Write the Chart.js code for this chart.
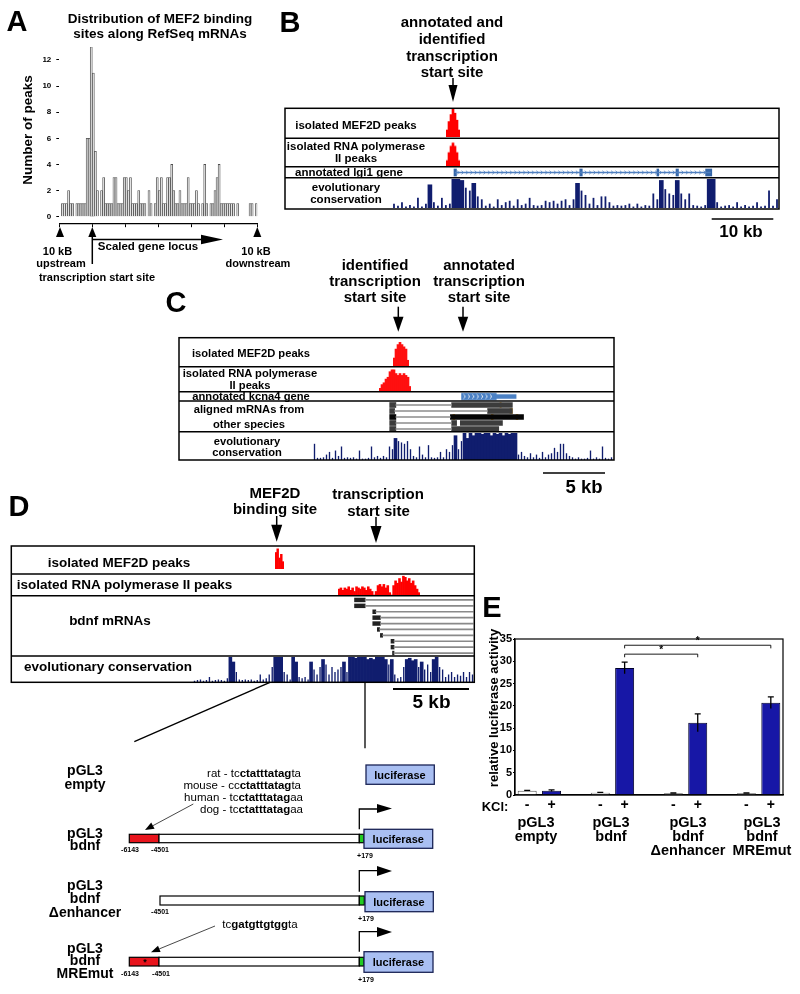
<!DOCTYPE html>
<html><head><meta charset="utf-8">
<script src="https://cdn.jsdelivr.net/npm/chart.js@4.4.1/dist/chart.umd.min.js"></script>
<style>
body{margin:0;background:#fff;}
#root{position:relative;width:800px;height:994px;overflow:hidden;font-family:"Liberation Sans",Arial,Helvetica,sans-serif;background:#fff;}
.t{position:absolute;white-space:nowrap;transform:translate(-50%,-50%);font-weight:bold;color:#000;line-height:1;z-index:3;}
canvas{position:absolute;z-index:1;}
#svg{position:absolute;left:0;top:0;z-index:2;}
</style></head>
<body><div id="root"></div>
<script>
// ================= DATA =================
// Panel A: histogram of MEF2 peaks along scaled gene locus (96 bins)
const histBins = [0,1,1,1,2,1,1,0,1,1,1,1,1,6,6,13,11,5,2,0,2,3,1,1,1,1,3,3,1,1,1,3,3,2,3,1,1,1,2,1,1,1,0,2,1,0,1,3,2,3,1,1,3,3,4,2,1,1,2,1,1,1,3,1,1,1,2,1,0,1,4,1,0,1,1,2,3,4,1,1,1,1,1,1,1,0,1,0,0,0,0,0,1,1,0,1];
const histYTicks = [0,2,4,6,8,10,12];
const histXTicks = [0,16,32,48,64,80,96];

// Panel B (lgi1 locus)
const consB = [15,8,20,5,10,5,35,5,15,80,20,8,35,10,15,100,100,95,70,60,85,40,30,8,15,5,30,10,20,25,8,30,10,15,35,10,8,10,25,20,25,15,25,30,10,30,85,60,45,15,35,10,40,40,20,8,10,8,10,15,5,15,5,10,8,50,30,95,65,50,45,95,50,30,50,10,8,5,10,100,100,20,5,8,10,5,20,5,10,5,8,20,5,8,60,8,30];
const peakB_MEF2D = [5,11,16,20,17,12,5];
const peakB_Pol2 = [4,9,13,15,13,9,4];
const lgi1Intron = [[0,27.6,69.0]];
const lgi1Exons = [[0,27.4,27.8],[0,47.8,48.2],[0,60.3,60.6],[0,63.4,63.8],[0,68.2,69.2]];

// Panel C (kcna4 locus)
const consC = [60,8,8,10,20,30,8,35,15,50,8,10,8,10,5,35,5,5,8,50,10,15,8,15,10,50,40,80,70,65,60,70,40,15,10,50,20,10,55,10,8,10,30,10,40,30,55,90,40,70,100,80,100,90,100,100,95,100,100,90,100,95,100,90,100,95,100,100,20,30,15,10,25,10,20,8,30,10,20,25,45,30,60,60,25,15,10,5,10,5,5,8,35,5,10,5,50,8,5,10];
const peakC_MEF2D = [4,8,10,11,10,9,8,3];
const peakC_Pol2 = [2,4,5,7,8,11,12,12,10,9,10,9,10,9,8,3];
const kcna4Thick = [[0,22.8,25.6]];
const kcna4Thin = [[0,25.6,27.2]];
const cIntrons = [[0,17.5,22.0],[1,17.4,24.9],[2,17.5,21.9],[3,17.5,22.0],[4,17.5,22.0]];
const cBlocksGray = [[0,17.0,17.5],[0,22.0,26.9],[1,17.0,17.4],[1,24.9,26.9],[3,17.0,17.5],[3,22.0,22.4],[3,22.7,26.1],[4,17.0,17.5],[4,22.0,25.8]];
const cBlocksBlack = [[2,17.0,17.5],[2,21.9,27.8]];
const cBlocksOrange = [[0,25.9,26.0],[1,26.7,26.9],[2,22.1,22.25],[2,25.2,25.35],[2,27.2,27.35]];

// Panel D (bdnf locus)
const consD = [5,8,10,5,8,20,5,8,10,8,5,15,100,80,40,10,8,10,8,10,5,8,30,10,15,30,60,100,100,100,40,30,10,100,80,20,15,20,10,80,50,30,60,90,70,30,60,40,50,60,80,40,100,100,95,100,100,100,90,95,90,100,100,100,90,70,90,30,15,20,60,90,95,85,90,60,80,50,70,40,90,100,60,50,20,30,40,20,30,25,40,20,40,30];
const peakD_MEF2D = [9,11,6,8,4];
const peakD_Pol2 = [5,6,4,6,5,7,4,6,3,7,6,5,7,6,4,7,5,3,0,3,8,9,7,9,6,8,2,0,8,12,10,14,11,16,15,12,14,10,12,8,5,2];
const dBlocks = [[0,22.6,23.3],[1,22.6,23.3],[2,23.8,24.0],[3,23.8,24.3],[4,23.8,24.3],[5,24.1,24.25],[6,24.3,24.45],[7,25.0,25.2],[8,25.0,25.2],[9,25.1,25.2]];
const dIntrons = [[0,23.3,30.4],[1,23.3,30.4],[2,24.0,30.4],[3,24.3,30.4],[4,24.3,30.4],[5,24.25,30.4],[6,24.45,30.4],[7,25.2,30.4],[8,25.2,30.4],[9,25.2,30.4]];

// Panel E: relative luciferase activity
const eGroups = [['pGL3','empty'],['pGL3','bdnf'],['pGL3','bdnf','\u0394enhancer'],['pGL3','bdnf','MREmut']];
const eKclMinus = [0.97,0.52,0.37,0.37];
const eKclPlus = [0.97,28.5,16.2,20.7];
const eErrMinus = [0.08,0.08,0.08,0.08];
const eErrPlus = [0.2,1.3,2.0,1.3];
const eSignif = [[1,3,33.6],[1,2,31.6]]; // group a (+KCl) vs group b (+KCl), bracket level

// ================= HELPERS =================
Chart.defaults.font.family = '"Liberation Sans", Arial, sans-serif';
Chart.defaults.color = '#000';
const root = document.getElementById('root');
function T(txt,x,y,size,opt){opt=opt||{};const d=document.createElement('div');d.className='t';d.style.left=x+'px';d.style.top=y+'px';d.style.fontSize=size+'px';
 if(opt.html)d.innerHTML=txt;else d.textContent=txt;if(opt.normal)d.style.fontWeight='normal';
 if(opt.rot)d.style.transform='translate(-50%,-50%) rotate(-90deg)';if(opt.right)d.style.transform='translate(-100%,-50%)';root.appendChild(d);return d;}
function mkCanvas(x,y,w,h){const c=document.createElement('canvas');c.width=w;c.height=h;c.style.left=x+'px';c.style.top=y+'px';c.style.width=w+'px';c.style.height=h+'px';root.appendChild(c);return c;}
const baseOpts={responsive:false,animation:false,devicePixelRatio:1,events:[],plugins:{legend:{display:false},tooltip:{enabled:false}}};
function track(x,y,w,h,values,color,ymax){
 const c=mkCanvas(x,y,w,h);
 return new Chart(c,{type:'bar',data:{labels:values.map((v,i)=>i),datasets:[{data:values,backgroundColor:color,barPercentage:1,categoryPercentage:1,borderWidth:0}]},
 options:Object.assign({},baseOpts,{layout:{padding:0},scales:{x:{display:false},y:{display:false,min:0,max:ymax}}})});
}
// conservation: dense (high) bins drawn full width, isolated spikes drawn thin
function consTrack(x,y,w,h,values,color){
 const c=mkCanvas(x,y,w,h);
 const hi=values.map(v=>v>=75?v:null), lo=values.map(v=>v<75?v:null);
 return new Chart(c,{type:'bar',data:{labels:values.map((v,i)=>i),datasets:[
   {data:hi,backgroundColor:color,barPercentage:1,categoryPercentage:1,borderWidth:0,grouped:false},
   {data:lo,backgroundColor:color,barPercentage:0.45,categoryPercentage:1,borderWidth:0,grouped:false}]},
 options:Object.assign({},baseOpts,{layout:{padding:0},scales:{x:{display:false},y:{display:false,min:0,max:100}}})});
}
const chevPlugin={id:'chev',afterDatasetsDraw(chart){const ctx=chart.ctx;chart.data.datasets.forEach((ds,i)=>{if(!ds.chev)return;const meta=chart.getDatasetMeta(i);
 meta.data.forEach(el=>{const a=Math.min(el.x,el.base)+3,b=Math.max(el.x,el.base)-3;ctx.save();ctx.strokeStyle=ds.chev;ctx.lineWidth=0.8;
 for(let p=a;p<=b;p+=4.4){ctx.beginPath();ctx.moveTo(p-1.1,el.y-ds.chevH);ctx.lineTo(p+0.9,el.y);ctx.lineTo(p-1.1,el.y+ds.chevH);ctx.stroke();}ctx.restore();});});}};
function gene(x,y,w,h,xmax,nrows,layers){
 const c=mkCanvas(x,y,w,h);const rows=[];for(let i=0;i<nrows;i++)rows.push('r'+i);
 const datasets=layers.map(L=>({data:L.segs.map(s=>({y:rows[s[0]],x:[s[1],s[2]]})),backgroundColor:L.color,barThickness:L.thick,borderWidth:0,grouped:false,chev:L.chev,chevH:L.chevH||1.8}));
 return new Chart(c,{type:'bar',data:{labels:rows,datasets},options:Object.assign({},baseOpts,{indexAxis:'y',layout:{padding:0},scales:{x:{type:'linear',display:false,min:0,max:xmax},y:{type:'category',display:false}}}),plugins:[chevPlugin]});
}

// ================= PANEL A =================
new Chart(mkCanvas(0,0,270,240),{type:'bar',
 data:{datasets:[{data:histBins.map((v,i)=>({x:i+0.5,y:v})),backgroundColor:'#e4e4e4',borderColor:'#505050',borderWidth:0.8,barPercentage:1,categoryPercentage:1}]},
 options:Object.assign({},baseOpts,{layout:{padding:{top:46.9,right:12.7,left:0,bottom:0}},
  scales:{
   x:{type:'linear',min:0,max:96,offset:false,afterBuildTicks:s=>{s.ticks=histXTicks.map(v=>({value:v}));},ticks:{display:false},grid:{drawOnChartArea:false,offset:false,tickLength:4,color:'#000',lineWidth:1},border:{color:'#000',width:1.2},afterFit:s=>{s.height=16.8;}},
   y:{min:-0.5,max:13,afterBuildTicks:s=>{s.ticks=histYTicks.map(v=>({value:v}));},ticks:{font:{size:8,weight:'bold'},color:'#000',padding:1},grid:{drawOnChartArea:false,tickLength:7,tickBorderDash:[0,4,3,10],color:'#000'},border:{display:false},afterFit:s=>{s.width=59.3;}}
  }})});

// ================= PANEL B tracks =================
consTrack(392,178.5,387,29.5,consB,'#101d6e');
track(446,108.5,14,28.2,peakB_MEF2D,'#ff0000',20);
track(446,138.8,14,27.9,peakB_Pol2,'#ff0000',17.5);
gene(285,167.5,494,9.5,80.1,1,[{segs:lgi1Intron,color:'#4f7fbf',thick:1,chev:'#4f7fbf',chevH:1.8},{segs:lgi1Exons,color:'#3566a8',thick:7}]);

// ================= PANEL C tracks =================
consTrack(313,432.5,300,27,consC,'#101d6e');
track(393,338.5,16,28.2,peakC_MEF2D,'#ff1010',12.5);
track(379,367.5,32,24.2,peakC_Pol2,'#ff1010',13);
gene(179,392.3,435,8.4,35.1,1,[{segs:kcna4Thin,color:'#4a80c4',thick:3.5},{segs:kcna4Thick,color:'#4a80c4',thick:6,chev:'#ffffff',chevH:1.8}]);
gene(179,401.5,435,30,35.1,5,[{segs:cIntrons,color:'#8c8c8c',thick:1},{segs:cBlocksGray,color:'#3c3c3c',thick:5},{segs:cBlocksBlack,color:'#050505',thick:5},{segs:cBlocksOrange,color:'#e8a020',thick:5}]);

// ================= PANEL D tracks =================
consTrack(193,656.5,281,25.5,consD,'#101d6e');
track(275,546.5,9,22.8,peakD_MEF2D,'#ff0000',12);
track(338,574.5,82,20.5,peakD_Pol2,'#ff0000',17);
gene(11.3,596.5,463,59,30.46,10,[{segs:dIntrons,color:'#8a8a8a',thick:1},{segs:dBlocks,color:'#222222',thick:3.8}]);

// ================= PANEL E =================
const eLabels=[],eVals=[],eErr=[],eFill=[],eBorder=[],ePlusIdx=[];
eGroups.forEach((g,i)=>{
 eLabels.push('-');eVals.push(eKclMinus[i]);eErr.push(eErrMinus[i]);eFill.push('#ffffff');eBorder.push('#555555');
 eLabels.push('+');eVals.push(eKclPlus[i]);eErr.push(eErrPlus[i]);eFill.push('#1717a6');eBorder.push('#00002a');ePlusIdx.push(eLabels.length-1);
 if(i<eGroups.length-1){eLabels.push('');eVals.push(null);eErr.push(null);eFill.push('#fff');eBorder.push('#fff');}
});
const ePlugin={id:'eplug',afterDatasetsDraw(chart){
 const ctx=chart.ctx,ys=chart.scales.y,meta=chart.getDatasetMeta(0),ca=chart.chartArea;
 ctx.save();ctx.strokeStyle='#000';ctx.lineWidth=1.2;ctx.strokeRect(ca.left,ca.top,ca.right-ca.left,ca.bottom-ca.top);
 ctx.lineWidth=1.3;
 eVals.forEach((v,i)=>{if(v==null)return;const x=meta.data[i].x,e=eErr[i];const yt=ys.getPixelForValue(v+e),yb=ys.getPixelForValue(Math.max(0,v-e));
  ctx.beginPath();ctx.moveTo(x,yt);ctx.lineTo(x,yb);ctx.moveTo(x-3,yt);ctx.lineTo(x+3,yt);ctx.stroke();});
 ctx.lineWidth=0.9;ctx.fillStyle='#000';ctx.font='bold 10px "Liberation Sans", Arial';ctx.textAlign='center';ctx.textBaseline='middle';
 eSignif.forEach(s=>{const xa=meta.data[ePlusIdx[s[0]]].x,xb=meta.data[ePlusIdx[s[1]]].x,y=ys.getPixelForValue(s[2]),yd=ys.getPixelForValue(s[2]-0.7);
  ctx.beginPath();ctx.moveTo(xa,yd);ctx.lineTo(xa,y);ctx.lineTo(xb,y);ctx.lineTo(xb,yd);ctx.stroke();ctx.fillText('*',(xa+xb)/2,y-3.5);});
 ctx.restore();}};
new Chart(mkCanvas(470,620,330,220),{type:'bar',
 data:{labels:eLabels,datasets:[{data:eVals,backgroundColor:eFill,borderColor:eBorder,borderWidth:1,barPercentage:0.78,categoryPercentage:1}]},
 options:Object.assign({},baseOpts,{layout:{padding:{top:19,right:17,left:0,bottom:20}},
  scales:{
   x:{grid:{display:true,drawOnChartArea:false,drawTicks:false},border:{color:'#000',width:1.2},ticks:{font:{size:14,weight:'bold'},color:'#000',padding:2,autoSkip:false,maxRotation:0},afterFit:s=>{s.height=25;}},
   y:{min:0,max:35,ticks:{stepSize:5,font:{size:11,weight:'bold'},color:'#000',padding:1},grid:{drawOnChartArea:false,tickLength:2,color:'#000'},border:{color:'#000',width:1.2},afterFit:s=>{s.width=45;}}
  }}),plugins:[ePlugin]});

// ================= SVG DIAGRAM =================
const S=[];
function L(x1,y1,x2,y2,w,c){S.push(`<line x1="${x1}" y1="${y1}" x2="${x2}" y2="${y2}" stroke="${c||'#000'}" stroke-width="${w||1.5}"/>`);}
function R(x,y,w,h,fill,sw,st){S.push(`<rect x="${x}" y="${y}" width="${w}" height="${h}" fill="${fill||'none'}" stroke="${st||'#000'}" stroke-width="${sw||1.5}"/>`);}
function P(pts,fill){S.push(`<polygon points="${pts}" fill="${fill||'#000'}"/>`);}
function PL(d,w){S.push(`<path d="${d}" fill="none" stroke="#000" stroke-width="${w||1.3}"/>`);}
function down(x,y1,y2,hw,hh){L(x,y1,x,y2-hh+1,1.5);P(`${x-hw},${y2-hh} ${x+hw},${y2-hh} ${x},${y2}`);}
// A
P('56,237 60,227 64,237');P('88.3,237 92.3,227 96.3,237');P('253.3,237 257.3,227 261.3,237');
L(92.3,236,92.3,264,1.5);L(93,239.5,206,239.5,1.6);P('201,234.8 223,239.5 201,244.2');
// B
down(453,78,102,4.5,17);R(285,108.3,494,100.7);L(285,138.3,779,138.3);L(285,166.7,779,166.7);L(285,177.7,779,177.7);L(711.7,219,773.3,219,1.6);
// C
down(398.3,306.7,331.7,5.2,15);down(463,306.7,331.7,5.2,15);R(179,337.7,435,122.3);L(179,366.7,614,366.7);L(179,391.7,614,391.7);L(179,401,614,401);L(179,431.7,614,431.7);L(543,473,605,473,1.6);
// D
down(276.7,516,541.7,5.5,17);down(376,517,543,5.5,17);R(11.3,546,463,136.3);L(11.3,574,474.3,574);L(11.3,595.7,474.3,595.7);L(11.3,656,474.3,656);L(393,689,469,689,1.8);
L(270,682.3,134.3,741.7,1.3);L(365,682.3,365,748.3,1.3);
// constructs
const LUC='#a9bff2',LST='#1b2456';
R(366,765,68.3,19.3,LUC,1.3,LST);
R(129.3,834.3,29.7,8.4,'#e8141c',1.2);R(159,834.3,200.3,8.4,'#fff',1.2);R(359.3,834.3,4.7,8.4,'#22cc22',1.2);R(364,829.3,68.7,19,LUC,1.3,LST);
PL('M359.3,829.3 V809 H379');P('377,804 392,808.5 377,813');
R(160,896,199.3,9,'#fff',1.2);R(359.3,896,5,9,'#22cc22',1.2);R(365,891.7,68.3,20,LUC,1.3,LST);
PL('M359.3,891.7 V870.7 H379');P('377,866 392,871 377,876');
R(129.3,957.3,29.7,8.7,'#e8141c',1.2);R(159,957.3,200.3,8.7,'#fff',1.2);R(359.3,957.3,4.7,8.7,'#22cc22',1.2);R(364,951.7,69,20.6,LUC,1.3,LST);
PL('M359.3,951.7 V931.7 H379');P('377,927 392,932 377,937');
L(193.3,804,152.9,825.7,0.9,'#333');P('145,830 154.6,828.8 151.2,822.6');
L(215,926,159.3,948.9,0.9,'#333');P('151,952.3 160.6,952.1 158,945.7');
const svg=document.createElementNS('http://www.w3.org/2000/svg','svg');svg.setAttribute('id','svg');svg.setAttribute('width','800');svg.setAttribute('height','994');svg.innerHTML=S.join('');root.appendChild(svg);

// ================= TEXT =================
// A
T('A',17,21,29);T('Distribution of MEF2 binding',160,19,13.5);T('sites along RefSeq mRNAs',160,34,13.5);
T('Number of peaks',27.5,130,13.5,{rot:1});
T('10 kB',57.5,251,11);T('upstream',61,263,11);T('Scaled gene locus',148,247,11.5);
T('10 kB',256,251,11);T('downstream',258,263,11);T('transcription start site',97,277,11);
// B
T('B',290,22,29);T('annotated and',452,21,15);T('identified',452,38,15);T('transcription',452,55,15);T('start site',452,71,15);
T('isolated MEF2D peaks',356,125.5,11.5);T('isolated RNA polymerase',356,146.5,11.5);T('II peaks',356,159,11.5);
T('annotated lgi1 gene',349,173,11.5);T('evolutionary',346,188,11.5);T('conservation',346,200,11.5);T('10 kb',741,231,17);
// C
T('C',176,302,29);T('identified',375,263.5,15);T('transcription',375,280,15);T('start site',375,296,15);
T('annotated',479,263.5,15);T('transcription',479,280,15);T('start site',479,296,15);
T('isolated MEF2D peaks',251,353.5,11.2);T('isolated RNA polymerase',250,373.5,11.2);T('II peaks',250,386,11.2);
T('annotated kcna4 gene',251,397,11.2);T('aligned mRNAs from',249,410,11.2);T('other species',249,424.5,11.2);
T('evolutionary',247,442,11.2);T('conservation',247,453,11.2);T('5 kb',584,487,18.5);
// D
T('D',19,506,29);T('MEF2D',275,491.5,15);T('binding site',275,508,15);T('transcription',378,493,15);T('start site',378.5,509.5,15);
T('isolated MEF2D peaks',119,562.5,13.5);T('isolated RNA polymerase II peaks',124.5,585,13.5);T('bdnf mRNAs',110,621,13.5);
T('evolutionary conservation',108,667,13.5);T('5 kb',431.5,701,19);
// constructs
[['pGL3',770],['empty',784],['pGL3',833],['bdnf',845],['pGL3',885],['bdnf',898],['\u0394enhancer',912],['pGL3',948],['bdnf',960],['MREmut',973]].forEach(a=>T(a[0],85,a[1],14));
T('rat - tc<b>ctatttatag</b>ta',301,773.5,11.5,{html:1,normal:1,right:1});
T('mouse - cc<b>ctatttatag</b>ta',301,785.5,11.5,{html:1,normal:1,right:1});
T('human - tc<b>ctatttatag</b>aa',303,797.5,11.5,{html:1,normal:1,right:1});
T('dog - tc<b>ctatttatag</b>aa',303,810,11.5,{html:1,normal:1,right:1});
T('tc<b>gatgttgtgg</b>ta',260,925,11.5,{html:1,normal:1});
T('luciferase',400,774.7,11);T('luciferase',398.3,838.8,11);T('luciferase',399,901.7,11);T('luciferase',398.5,962,11);
T('-6143',130,849,7);T('-4501',160,849,7);T('+179',365,854.5,7);T('-4501',160,910.5,7);T('+179',366,917.5,7);
T('-6143',130,972.5,7);T('-4501',161,972.5,7);T('+179',366,978.5,7);T('*',145,962,9);
// E
T('E',492,607,29);T('relative luciferase activity',493,708,13,{rot:1});T('KCl:',495,806,13);
const eCx=[536,611,688,762];
eGroups.forEach((g,i)=>g.forEach((s,j)=>T(s,eCx[i],822+14*j,14.5)));
</script>
</body></html>
